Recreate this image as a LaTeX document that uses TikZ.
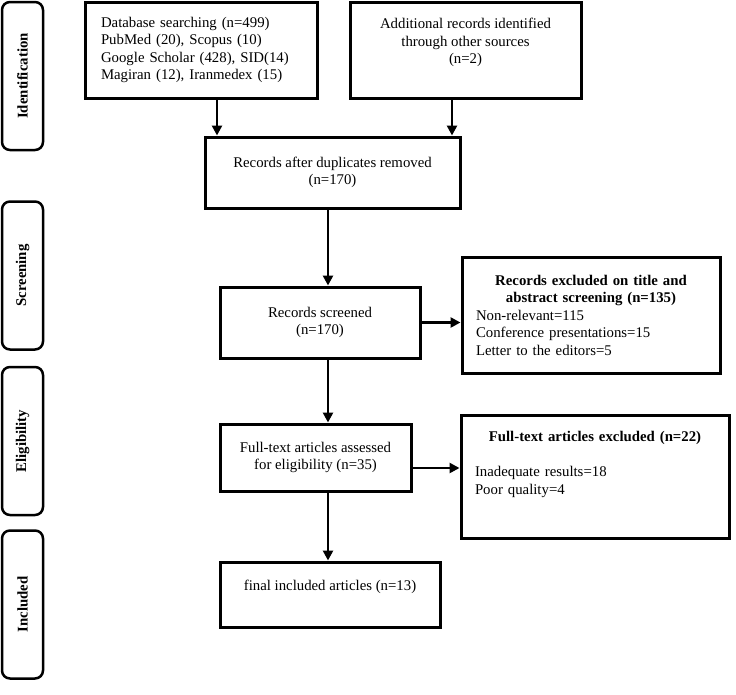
\documentclass[tikz,border=0pt]{standalone}
\usepackage{fontspec}
\setmainfont{Liberation Serif}
\usetikzlibrary{arrows.meta}

\tikzset{
  box/.style={draw, line width=3pt, minimum height=71pt, align=center,
    font=\fontsize{14.8}{17.5}\selectfont},
  phase/.style={draw, rounded corners=8pt, line width=2.5pt, rotate=90,
    minimum width=148pt, minimum height=41pt,
    font=\fontsize{14.8}{17.5}\selectfont\bfseries},
  arr/.style={line width=2.8pt, -{Triangle[length=10pt,width=10pt]}}
}

\begin{document}
\begin{tikzpicture}[x=1pt,y=-1pt]
  \useasboundingbox (0,0) rectangle (736,694);

  \node[phase] (ident) at (22.5,76) {Identification};
  \node[phase] (screen) at (22.5,275.5) {Screening};
  \node[phase] (elig) at (22.5,441) {Eligibility};
  \node[phase] (incl) at (22.5,604.5) {Included};

  \node[box, minimum width=232pt, minimum height=96pt, text width=200pt, align=left] (db) at (201,50)
    {Database searching (n=499)\\ PubMed (20), Scopus (10)\\ Google Scholar (428), SID(14)\\ Magiran (12), Iranmedex (15)};
  \node[box, minimum width=231pt, minimum height=96pt] (add) at (465.5,50)
    {Additional records identified\\ through other sources\\ (n=2)\\ \mbox{}};
  \node[box, minimum width=255pt] (dup) at (332.5,172.5)
    {Records after duplicates removed\\ (n=170)};
  \node[box, minimum width=200pt] (scr) at (320,322.5)
    {Records screened\\ (n=170)};
  \node[box, minimum width=258pt, minimum height=116pt, text width=230pt, align=left] (exc1) at (591,315)
    {{\centering\bfseries Records excluded on title and\\ abstract screening (n=135)\par}
     Non-relevant=115\\ Conference presentations=15\\ Letter to the editors=5};
  \node[box, minimum width=191pt, minimum height=67pt] (full) at (315.5,457.5)
    {Full-text articles assessed\\ for eligibility (n=35)};
  \node[box, minimum width=268pt, minimum height=123pt, text width=240pt, align=left] (exc2) at (595,476.5)
    {{\centering\bfseries Full-text articles excluded (n=22)\par}\vspace{18pt}
     Inadequate results=18\\ Poor quality=4\\[10pt] \mbox{}};
  \node[box, minimum width=220pt, minimum height=65pt] (final) at (330,594.5)
    {final included articles (n=13)\\ \mbox{}};

  \coordinate (spine) at (328,0);
  \draw[arr] ([xshift=16pt]db.south) -- ([xshift=16pt]db.south |- dup.north);
  \draw[arr] ([xshift=-13.5pt]add.south) -- ([xshift=-13.5pt]add.south |- dup.north);
  \draw[arr] (dup.south -| spine) -- (scr.north -| spine);
  \draw[arr] (scr.south -| spine) -- (full.north -| spine);
  \draw[arr] (full.south -| spine) -- (final.north -| spine);
  \draw[arr] (scr.east) -- (scr.east -| exc1.west);
  \draw[arr] ([yshift=-10.5pt]full.east) -- ([yshift=-10.5pt]full.east -| exc2.west);
\end{tikzpicture}
\end{document}
